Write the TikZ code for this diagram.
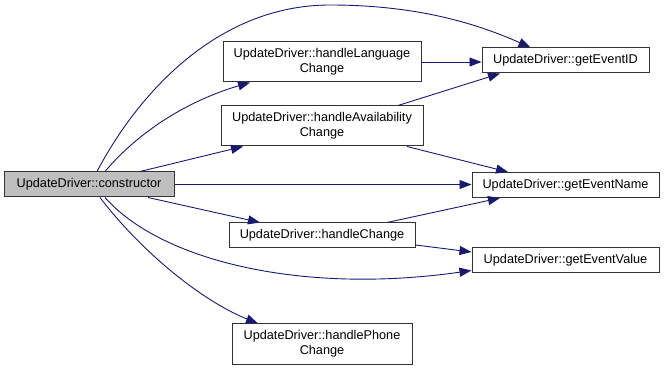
\documentclass[tikz,border=0pt]{standalone}
\usepackage{fontspec}
\setmainfont{Liberation Sans}
\usetikzlibrary{arrows.meta,calc}
\definecolor{edgeblue}{RGB}{25,25,112}
\definecolor{boxgray}{RGB}{191,191,191}
\tikzset{
  fn/.style={draw=black!80, line width=1pt, fill=white, inner sep=0pt,
    align=center, font=\fontsize{12.7}{15}\selectfont},
  rootfn/.style={fn, fill=boxgray},
  call/.style={draw=edgeblue, line width=0.9pt,
    -{Triangle[length=12pt,width=9pt]}, color=edgeblue},
}
\begin{document}
\begin{tikzpicture}[x=1pt,y=-1pt]
\useasboundingbox (0,0) rectangle (664,371);

% functions
\node[rootfn, minimum width=170pt, minimum height=25pt] (ctor) at (89,184.5) {UpdateDriver::constructor};
\node[fn, minimum width=198pt, minimum height=40pt] (lang) at (322,62) {UpdateDriver::handleLanguage\\Change};
\node[fn, minimum width=202pt, minimum height=40pt] (avail) at (322,126) {UpdateDriver::handleAvailability\\Change};
\node[fn, minimum width=186pt, minimum height=25pt] (change) at (322,235.5) {UpdateDriver::handleChange};
\node[fn, minimum width=180pt, minimum height=40pt] (phone) at (322,344) {UpdateDriver::handlePhone\\Change};
\node[fn, minimum width=167pt, minimum height=25pt] (id) at (565.5,60.5) {UpdateDriver::getEventID};
\node[fn, minimum width=187pt, minimum height=25pt] (name) at (565.5,185) {UpdateDriver::getEventName};
\node[fn, minimum width=187pt, minimum height=25pt] (value) at (565.5,260.5) {UpdateDriver::getEventValue};

% calls made by the constructor
\draw[call] ($(ctor.north)+(8,0)$) .. controls (140,90) and (220,5) .. (330,5)
  .. controls (420,5) and (480,25) .. ($(id.north)+(-35,0)$);
\draw[call] ($(ctor.north)+(16,0)$) .. controls (140,130) and (190,100) .. ($(lang.south)+(-72,0)$);
\draw[call] ($(ctor.north)+(51,0)$) -- ($(avail.south)+(-79,0)$);
\draw[call] (ctor.east) -- (ctor.east -| name.west);
\draw[call] ($(ctor.south)+(59,0)$) -- ($(change.north)+(-62,0)$);
\draw[call] ($(ctor.south)+(16,0)$) .. controls (160,260) and (300,295) .. ($(value.west)+(0,10)$);
\draw[call] ($(ctor.south)+(11,0)$) .. controls (140,250) and (200,300) .. ($(phone.north)+(-64,0)$);

% calls made by the handlers
\draw[call] (lang.east) -- (lang.east -| id.west);
\draw[call] ($(avail.north)+(76,0)$) -- ($(id.south)+(-65.5,0)$);
\draw[call] ($(avail.south)+(85,0)$) -- ($(name.north)+(-57.5,0)$);
\draw[call] ($(change.north)+(65,0)$) -- ($(name.south)+(-65.5,0)$);
\draw[call] ($(change.east)+(0,9.5)$) -- ($(value.west)+(0,-8.5)$);
\end{tikzpicture}
\end{document}
